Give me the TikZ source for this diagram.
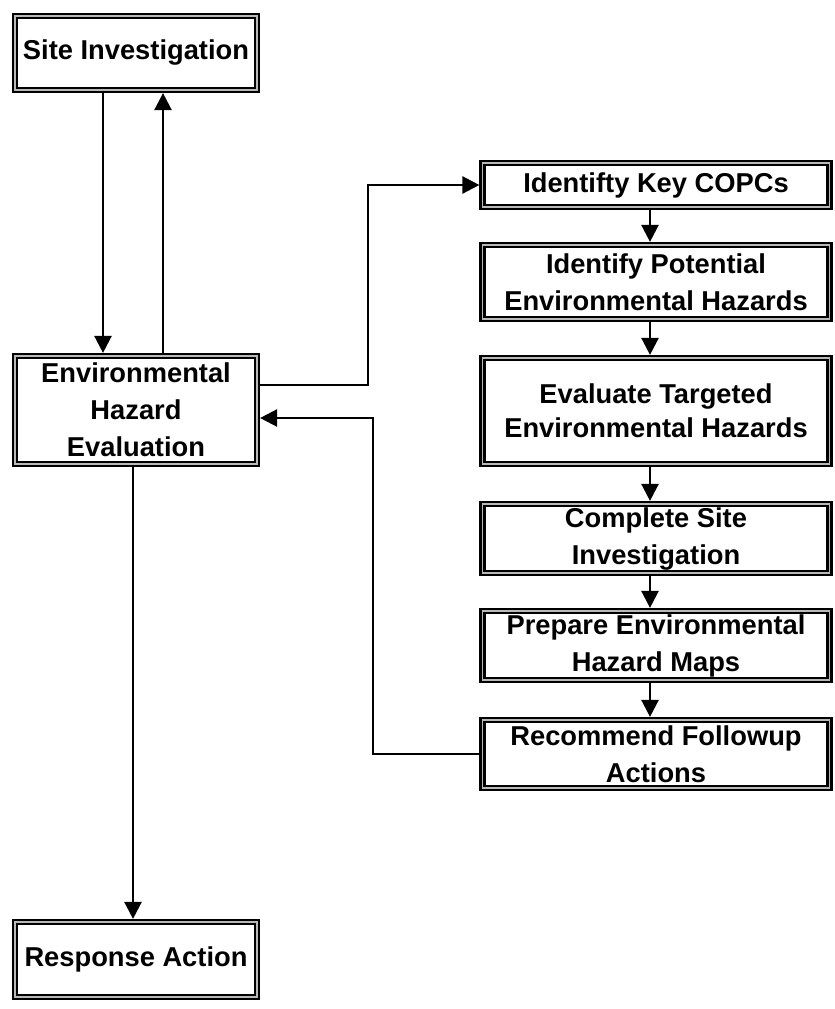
\documentclass[tikz,border=0pt]{standalone}
\usepackage{fontspec}
\setmainfont{Liberation Sans}
\usetikzlibrary{arrows.meta,calc}
\tikzset{
  box/.style={draw=black, line width=4.2pt, fill=white, inner sep=0pt, align=center,
    font=\bfseries\fontsize{27.3}{37}\selectfont},
  lbox/.style={box, minimum width=244pt},
  rbox/.style={box, minimum width=349pt},
  arr/.style={line width=2.5pt, -{Triangle[length=17pt,width=17pt]}},
}
\begin{document}
\begin{tikzpicture}[x=1pt,y=-1pt]
\useasboundingbox (0,0) rectangle (835,1009);
% left column
\node[lbox, minimum height=76pt] (si) at (136,53) {Site Investigation};
\node[lbox, minimum height=110pt] (ehe) at (136,410) {Environmental\\Hazard\\Evaluation};
\node[lbox, minimum height=77pt] (ra) at (136,959.5) {Response Action};
% right column
\node[rbox, minimum height=46pt] (kc) at (656,185) {Identifty Key COPCs};
\node[rbox, minimum height=76pt] (ip) at (656,282) {Identify Potential\\Environmental Hazards};
\node[rbox, minimum height=108pt, font=\bfseries\fontsize{27.3}{34}\selectfont] (et) at (656,411) {Evaluate Targeted\\Environmental Hazards};
\node[rbox, minimum height=71pt] (cs) at (656,538.5) {Complete Site\\Investigation};
\node[rbox, minimum height=71pt] (pm) at (656,645.5) {Prepare Environmental\\Hazard Maps};
\node[rbox, minimum height=70pt] (rf) at (656,754) {Recommend Followup\\Actions};
% inner borders
\foreach \n in {si,ehe,ra,kc,ip,et,cs,pm,rf}{
  \draw[gray!55, line width=1.5pt] ([shift={(2.9pt,-2.9pt)}]\n.north west) rectangle ([shift={(-2.9pt,2.9pt)}]\n.south east);
  \draw[black, line width=2.4pt] ([shift={(5.2pt,-5.2pt)}]\n.north west) rectangle ([shift={(-5.2pt,5.2pt)}]\n.south east);
}
% helper coordinates
\coordinate (xd) at (103,0);
\coordinate (xu) at (163,0);
\coordinate (xr) at (133,0);
\coordinate (xc) at (650,0);
\coordinate (j1) at (368,385);
\coordinate (j2) at (368,185);
\coordinate (j3) at (373,754);
\coordinate (j4) at (373,418);
% connectors
\draw[arr] (si.south -| xd) -- (ehe.north -| xd);
\draw[arr] (ehe.north -| xu) -- (si.south -| xu);
\draw[arr] (ehe.south -| xr) -- (ra.north -| xr);
\draw[arr] (j1 -| ehe.east) -- (j1) -- (j2) -- (kc.west);
\draw[arr] (rf.west) -- (j3) -- (j4) -- (j4 -| ehe.east);
\draw[arr] (kc.south -| xc) -- (ip.north -| xc);
\draw[arr] (ip.south -| xc) -- (et.north -| xc);
\draw[arr] (et.south -| xc) -- (cs.north -| xc);
\draw[arr] (cs.south -| xc) -- (pm.north -| xc);
\draw[arr] (pm.south -| xc) -- (rf.north -| xc);
\end{tikzpicture}
\end{document}
